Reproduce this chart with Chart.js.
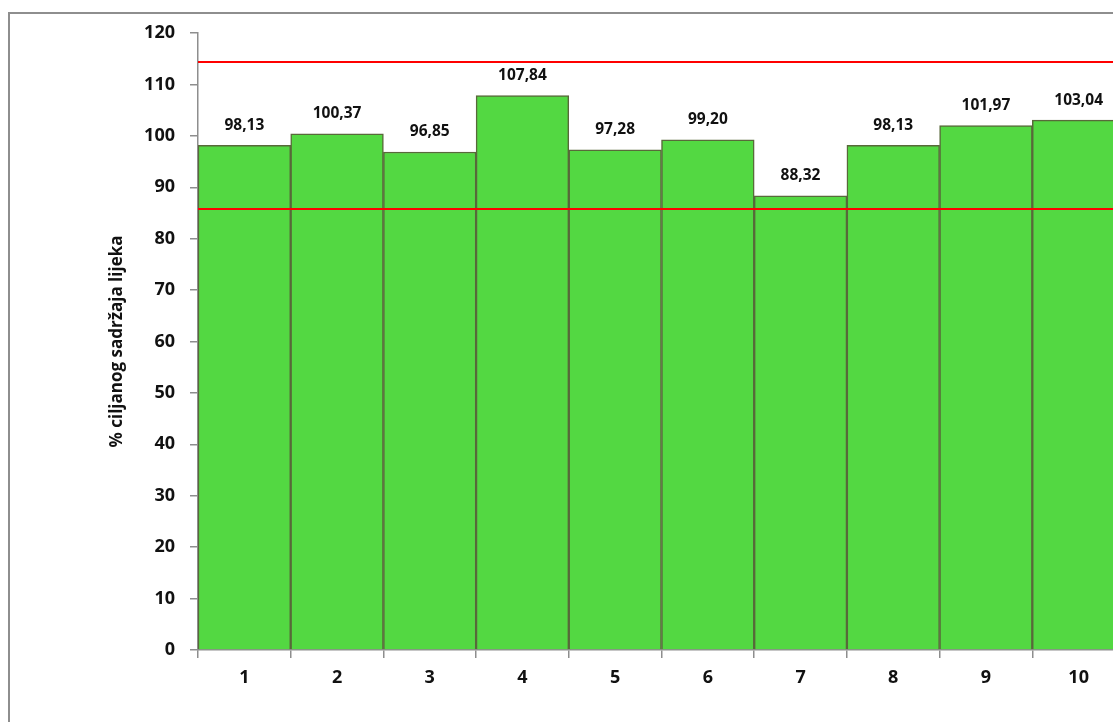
<!DOCTYPE html>
<html>
<head>
<meta charset="utf-8">
<script src="https://cdn.jsdelivr.net/npm/chart.js@4"></script>
<style>
  html, body { margin: 0; padding: 0; background: #fff; overflow: hidden; width: 1113px; height: 722px; }
  #frame { position: absolute; left: 8px; top: 12px; width: 1300px; height: 900px; border: 2px solid #8e8e8e; box-sizing: border-box; }
  #wrap { position: absolute; left: 0; top: 0; width: 1140px; height: 722px; }
</style>
</head>
<body>
<div id="frame"></div>
<div id="wrap"><canvas id="c" width="1140" height="722"></canvas></div>
<script>
const categories = ['1', '2', '3', '4', '5', '6', '7', '8', '9', '10'];
const values = [98.13, 100.37, 96.85, 107.84, 97.28, 99.20, 88.32, 98.13, 101.97, 103.04];
const limitLines = [114.3, 85.7];
const yTicks = [0, 10, 20, 30, 40, 50, 60, 70, 80, 90, 100, 110, 120];
const yTitle = '% ciljanog sadržaja lijeka';

const FONT = "'Open Sans', 'DejaVu Sans', sans-serif";

const overlay = {
  id: 'overlay',
  afterDatasetsDraw(chart) {
    const ctx = chart.ctx;
    const y = chart.scales.y;
    const area = chart.chartArea;
    ctx.save();
    ctx.strokeStyle = '#ff0000';
    ctx.lineWidth = 2;
    limitLines.forEach(v => {
      const py = Math.round(y.getPixelForValue(v));
      ctx.beginPath();
      ctx.moveTo(area.left, py);
      ctx.lineTo(chart.width, py);
      ctx.stroke();
    });
    const meta = chart.getDatasetMeta(0);
    ctx.fillStyle = '#111';
    ctx.font = "bold 15.5px " + FONT;
    ctx.textAlign = 'center';
    ctx.textBaseline = 'middle';
    meta.data.forEach((bar, i) => {
      const txt = values[i].toFixed(2).replace('.', ',');
      ctx.fillText(txt, bar.x, bar.y - 20);
    });
    ctx.restore();
  }
};

new Chart(document.getElementById('c'), {
  type: 'bar',
  data: {
    labels: categories,
    datasets: [{
      data: values,
      backgroundColor: '#53d842',
      borderColor: '#58693a',
      borderWidth: 1.5,
      barPercentage: 1,
      categoryPercentage: 1
    }]
  },
  options: {
    responsive: false,
    animation: false,
    layout: { padding: { top: 33, right: 15, left: 0, bottom: 0 } },
    plugins: { legend: { display: false }, tooltip: { enabled: false } },
    scales: {
      x: {
        offset: true,
        grid: { offset: true, drawOnChartArea: false, drawTicks: true, tickLength: 8, color: '#8e8e8e', lineWidth: 1.5 },
        border: { color: '#8e8e8e', width: 1.5 },
        ticks: { color: '#111', font: { family: FONT, size: 18, weight: 'bold' }, padding: 9, maxRotation: 0 },
        afterFit: s => { s.height = 72; }
      },
      y: {
        min: 0, max: 120,
        afterBuildTicks: s => { s.ticks = yTicks.map(v => ({ value: v })); },
        grid: { drawOnChartArea: false, drawTicks: true, tickLength: 8, color: '#8e8e8e', lineWidth: 1.5 },
        border: { color: '#8e8e8e', width: 1.5 },
        ticks: { color: '#111', font: { family: FONT, size: 18, weight: 'bold' }, padding: 15 },
        title: { display: true, text: yTitle, color: '#111', font: { family: FONT, size: 17, weight: 'bold' }, padding: { top: 107, bottom: 0 } },
        afterFit: s => { s.width = 198; }
      }
    }
  },
  plugins: [overlay]
});
</script>
</body>
</html>
